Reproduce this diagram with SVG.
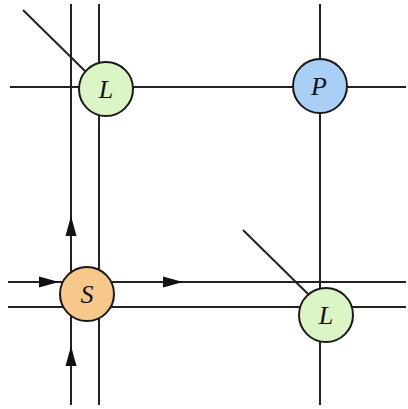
<svg xmlns="http://www.w3.org/2000/svg" width="408" height="409" viewBox="0 0 408 409">
<style>
.ln{stroke:#222;stroke-width:2;fill:none}
.nd{stroke:#1a1a1a;stroke-width:2}
.lbl{font-family:"Liberation Serif","DejaVu Serif",serif;font-style:italic;font-size:26px;fill:#111;text-anchor:middle}
</style>
<defs>
<marker id="ah" markerWidth="20" markerHeight="12" refX="19" refY="6" orient="auto" markerUnits="userSpaceOnUse">
<path d="M0,0.5 L20,6 L0,11.5 Z" fill="#111"/>
</marker>
</defs>
<rect width="408" height="409" fill="#fff"/>
<g id="connectors">
<line class="ln" x1="71" y1="4" x2="71" y2="405"/>
<line class="ln" x1="99" y1="4" x2="99" y2="405"/>
<line class="ln" x1="320" y1="4" x2="320" y2="405"/>
<line class="ln" x1="10" y1="87" x2="406" y2="87"/>
<line class="ln" x1="8" y1="282" x2="406" y2="282"/>
<line class="ln" x1="8" y1="307" x2="406" y2="307"/>
<line class="ln" x1="23" y1="10" x2="87" y2="73"/>
<line class="ln" x1="243" y1="230" x2="308" y2="294"/>
<line class="ln" x1="71" y1="245" x2="71" y2="217" marker-end="url(#ah)"/>
<line class="ln" x1="71" y1="375" x2="71" y2="347" marker-end="url(#ah)"/>
<line class="ln" x1="28" y1="282" x2="58" y2="282" marker-end="url(#ah)"/>
<line class="ln" x1="152" y1="282" x2="182" y2="282" marker-end="url(#ah)"/>
</g>
<g id="L1">
<circle class="nd" cx="106" cy="89" r="27" fill="#dcf5c6"/>
<text class="lbl" x="106" y="98">L</text>
</g>
<g id="P">
<circle class="nd" cx="320" cy="86" r="27" fill="#a9cff6"/>
<text class="lbl" x="319" y="95">P</text>
</g>
<g id="S">
<circle class="nd" cx="87" cy="294" r="27" fill="#f6c889"/>
<text class="lbl" x="87" y="303">S</text>
</g>
<g id="L2">
<circle class="nd" cx="326" cy="315" r="27" fill="#dcf5c6"/>
<text class="lbl" x="326" y="324">L</text>
</g>
</svg>
